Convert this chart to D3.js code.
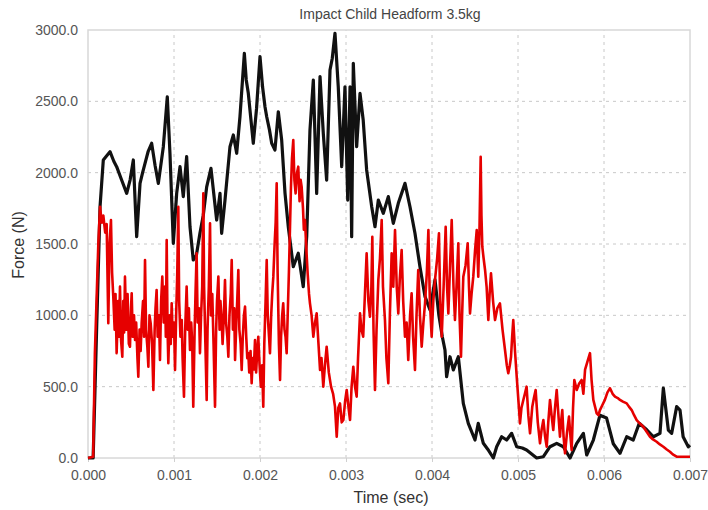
<!DOCTYPE html>
<html><head><meta charset="utf-8">
<script src="https://cdn.jsdelivr.net/npm/d3@7"></script>
<style>
html,body{margin:0;padding:0;background:#fff;}
svg{display:block;}
</style></head>
<body>
<svg id="chart" width="708" height="510"></svg>
<script>
const title = "Impact Child Headform 3.5kg";
const xLabel = "Time (sec)";
const yLabel = "Force (N)";
const xTicks = [0,0.001,0.002,0.003,0.004,0.005,0.006,0.007];
const yTicks = [0,500,1000,1500,2000,2500,3000];

// black series, time in ms
const blackTimeMs = [0,0.06,0.1,0.14,0.178,0.22,0.256,0.3,0.333,0.39,0.45,0.49,0.527,0.566,0.605,0.635,0.663,0.7,0.74,0.78,0.818,0.876,0.922,0.953,0.992,1.031,1.07,1.108,1.147,1.186,1.224,1.26,1.302,1.34,1.38,1.43,1.496,1.535,1.554,1.593,1.651,1.69,1.729,1.767,1.818,1.84,1.864,1.922,1.96,2.0,2.03,2.058,2.078,2.11,2.136,2.174,2.213,2.252,2.291,2.329,2.387,2.445,2.503,2.543,2.581,2.62,2.659,2.698,2.736,2.775,2.814,2.84,2.872,2.91,2.95,2.988,3.02,3.047,3.066,3.085,3.124,3.163,3.2,3.24,3.299,3.337,3.376,3.434,3.492,3.55,3.608,3.686,3.744,3.802,3.86,3.919,3.977,4.035,4.08,4.12,4.151,4.17,4.209,4.248,4.306,4.364,4.422,4.5,4.538,4.597,4.65,4.713,4.752,4.81,4.868,4.926,4.985,5.05,5.1,5.217,5.295,5.372,5.45,5.527,5.605,5.683,5.76,5.799,5.876,5.953,6.03,6.108,6.186,6.264,6.34,6.41,6.5,6.574,6.651,6.69,6.748,6.787,6.845,6.884,6.92,6.98,7.0];
const blackForce = [0,0,900,1761,2089,2120,2147,2080,2042,1950,1855,1950,2089,1551,1925,2000,2065,2150,2206,2050,1925,2182,2532,2136,1505,1855,2042,1832,2112,1621,1388,1420,1577,1700,1900,2030,1668,1855,1575,1808,2182,2264,2136,2392,2836,2650,2556,2206,2450,2813,2600,2462,2392,2300,2206,2159,2427,2229,1855,1621,1341,1435,1201,1551,2299,2649,1855,2673,2276,1948,2720,2800,2977,2602,2042,2602,1808,2602,1551,2766,2182,2556,2369,2019,1761,1621,1808,1715,1832,1645,1785,1925,1761,1575,1341,1131,1037,1250,1000,850,757,570,710,617,710,383,243,126,243,103,60,0,79,149,126,173,79,70,56,0,9,79,103,79,0,103,173,21,126,300,280,100,33,149,126,243,196,149,173,490,196,173,360,336,149,79,90];

// red series, time in ms
const redTimeMs = [0,0.06,0.08,0.12,0.14,0.16,0.178,0.2,0.217,0.236,0.25,0.267,0.28,0.294,0.31,0.32,0.333,0.35,0.36,0.372,0.385,0.399,0.41,0.42,0.43,0.445,0.46,0.475,0.488,0.5,0.508,0.52,0.535,0.547,0.56,0.575,0.585,0.6,0.612,0.624,0.64,0.652,0.663,0.675,0.69,0.702,0.715,0.729,0.745,0.76,0.775,0.785,0.798,0.81,0.825,0.837,0.85,0.864,0.88,0.895,0.905,0.915,0.925,0.934,0.95,0.962,0.973,0.985,1.0,1.012,1.025,1.038,1.05,1.06,1.075,1.09,1.1,1.116,1.13,1.147,1.16,1.173,1.186,1.2,1.212,1.224,1.24,1.25,1.263,1.275,1.29,1.302,1.315,1.328,1.341,1.35,1.365,1.38,1.39,1.405,1.419,1.43,1.445,1.46,1.477,1.49,1.5,1.516,1.53,1.54,1.554,1.565,1.58,1.593,1.605,1.62,1.632,1.645,1.66,1.671,1.685,1.7,1.71,1.725,1.735,1.748,1.76,1.775,1.787,1.8,1.813,1.826,1.84,1.852,1.864,1.875,1.89,1.903,1.915,1.928,1.942,1.955,1.968,1.98,1.995,2.01,2.025,2.038,2.05,2.065,2.078,2.09,2.105,2.116,2.13,2.142,2.155,2.17,2.182,2.194,2.205,2.22,2.233,2.245,2.258,2.27,2.285,2.297,2.31,2.322,2.336,2.349,2.36,2.372,2.387,2.4,2.414,2.43,2.445,2.46,2.472,2.484,2.5,2.51,2.523,2.54,2.554,2.57,2.581,2.6,2.62,2.64,2.659,2.68,2.698,2.715,2.736,2.755,2.775,2.8,2.826,2.85,2.872,2.892,2.91,2.93,2.95,2.969,2.99,3.008,3.03,3.047,3.065,3.085,3.105,3.124,3.14,3.163,3.18,3.2,3.22,3.24,3.26,3.279,3.295,3.306,3.32,3.337,3.355,3.376,3.395,3.415,3.43,3.453,3.47,3.492,3.51,3.531,3.55,3.57,3.59,3.608,3.625,3.647,3.665,3.686,3.705,3.724,3.745,3.763,3.78,3.802,3.82,3.84,3.86,3.88,3.9,3.919,3.94,3.958,3.975,3.996,4.015,4.035,4.06,4.081,4.095,4.113,4.135,4.159,4.175,4.19,4.21,4.229,4.25,4.267,4.285,4.306,4.32,4.337,4.35,4.364,4.39,4.415,4.43,4.442,4.46,4.48,4.5,4.52,4.538,4.552,4.566,4.575,4.585,4.6,4.617,4.635,4.655,4.67,4.686,4.71,4.733,4.76,4.79,4.82,4.849,4.87,4.887,4.905,4.919,4.932,4.945,4.965,4.985,5.005,5.023,5.04,5.062,5.08,5.1,5.12,5.14,5.155,5.166,5.185,5.205,5.23,5.256,5.275,5.295,5.315,5.334,5.352,5.372,5.39,5.41,5.43,5.45,5.47,5.488,5.5,5.515,5.53,5.547,5.57,5.593,5.61,5.624,5.64,5.655,5.683,5.71,5.74,5.76,5.78,5.81,5.837,5.855,5.876,5.9,5.915,5.935,5.953,5.98,6.01,6.04,6.07,6.1,6.128,6.16,6.186,6.22,6.264,6.29,6.322,6.35,6.38,6.42,6.457,6.5,6.535,6.57,6.612,6.65,6.69,6.73,6.767,6.8,6.845,7.0];
const redForce = [0,9,735,1500,1761,1650,1700,1580,1640,944,1500,1668,1300,1131,900,1150,735,1100,850,1201,820,710,1100,880,1271,900,1150,800,780,1050,1154,850,1000,827,950,700,570,900,750,944,1100,850,1388,900,780,640,1000,944,800,477,900,1050,1178,850,1000,687,1100,1271,950,1201,850,1528,900,664,1000,800,1084,850,950,617,1000,1300,1761,1100,850,967,700,430,900,1201,900,1050,757,950,800,360,900,1150,1435,950,1050,735,1000,1200,1855,1200,800,407,900,1200,1645,1000,1150,800,360,900,1100,1271,900,1100,967,800,1000,1248,950,850,710,1000,1150,1388,900,1050,687,950,1100,1318,900,800,617,850,1000,1061,850,700,735,600,750,524,700,620,827,600,750,850,650,500,650,360,800,1100,1388,1000,850,735,1000,1150,1271,1500,1650,1925,1300,800,547,850,1000,1084,900,850,735,1000,1300,1621,1900,2100,2229,1950,1855,2000,2042,1800,1950,1902,1750,1600,1668,1450,1295,1150,1084,1000,850,950,1014,800,617,700,500,650,780,600,500,450,360,149,350,383,250,266,400,477,350,266,500,640,500,430,700,1014,900,850,1150,1435,1100,990,1200,1551,900,477,900,1248,1400,1668,1200,967,700,524,1000,1435,1200,1598,1200,1014,1250,1458,1100,850,950,687,1000,1154,850,617,1000,1318,1000,780,950,1084,1300,1598,1100,850,1100,1248,1400,1575,1100,850,1200,1621,1200,1014,1350,1668,1200,967,1200,1505,1000,710,1000,1271,1350,1505,1200,1014,1150,1271,1450,1598,1271,1600,2112,1700,1481,1400,1318,1200,967,1150,1295,1100,967,1050,1084,900,757,650,594,650,710,850,967,750,570,400,243,350,407,450,500,300,173,280,360,420,477,250,103,200,266,150,79,250,407,300,196,350,477,300,149,250,336,150,33,180,290,150,56,350,547,477,520,547,450,620,680,735,550,407,350,313,300,336,370,407,460,489,450,430,420,407,395,383,360,336,300,266,240,219,180,149,130,114,95,79,60,44,25,9,9];

const svg = d3.select("#chart");
const W = 708, H = 510;
const m = {left:88, right:W-690, top:30, bottom:H-458};
const x = d3.scaleLinear().domain([0,0.007]).range([m.left, W-m.right]);
const y = d3.scaleLinear().domain([0,3000]).range([H-m.bottom, m.top]);
const font = "'Liberation Sans', Arial, sans-serif";

const g = svg.append("g");
g.append("g").selectAll("line").data(xTicks.slice(1,-1)).join("line")
  .attr("x1", d=>x(d)).attr("x2", d=>x(d)).attr("y1", y(0)).attr("y2", y(3000))
  .attr("stroke","#c8c8c8").attr("stroke-width",1).attr("stroke-dasharray","3,4");
g.append("g").selectAll("line").data(yTicks.slice(1,-1)).join("line")
  .attr("x1", x(0)).attr("x2", x(0.007)).attr("y1", d=>y(d)).attr("y2", d=>y(d))
  .attr("stroke","#c8c8c8").attr("stroke-width",1).attr("stroke-dasharray","3,4");
g.append("rect").attr("x", x(0)).attr("y", y(3000)).attr("width", x(0.007)-x(0)).attr("height", y(0)-y(3000))
  .attr("fill","none").attr("stroke","#d8d8d8").attr("stroke-width",1.5);

const xAxis = d3.axisBottom(x).tickValues(xTicks).tickFormat(d3.format(".3f")).tickSize(4).tickPadding(8);
const yAxis = d3.axisLeft(y).tickValues(yTicks).tickFormat(d3.format(".1f")).tickSize(0).tickPadding(10);
const gx = svg.append("g").attr("transform", `translate(0,${y(0)})`).call(xAxis);
const gy = svg.append("g").attr("transform", `translate(${x(0)},0)`).call(yAxis);
[gx, gy].forEach(a=>{
  a.select(".domain").remove();
  a.selectAll(".tick line").attr("stroke","#d0d0d0");
  a.selectAll("text").attr("font-family",font).attr("font-size","14px").attr("fill","#555");
});

const line = d3.line().x(d=>x(d[0])).y(d=>y(d[1]));
const blackData = blackTimeMs.map((t,i)=>[t/1000, blackForce[i]]);
const redData = redTimeMs.map((t,i)=>[t/1000, redForce[i]]);
svg.append("path").datum(blackData).attr("d", line).attr("fill","none")
  .attr("stroke","#111").attr("stroke-width",3.2).attr("stroke-linejoin","round");
svg.append("path").datum(redData).attr("d", line).attr("fill","none")
  .attr("stroke","#e60000").attr("stroke-width",2.6).attr("stroke-linejoin","round");

svg.append("text").attr("x", 390).attr("y", 19).attr("text-anchor","middle")
  .attr("font-family",font).attr("font-size","14px").attr("fill","#444").text(title);
svg.append("text").attr("x", 391).attr("y", 503).attr("text-anchor","middle")
  .attr("font-family",font).attr("font-size","16px").attr("fill","#333").text(xLabel);
svg.append("text").attr("transform","translate(24,245) rotate(-90)").attr("text-anchor","middle")
  .attr("font-family",font).attr("font-size","16px").attr("fill","#333").text(yLabel);
</script>
</body></html>
